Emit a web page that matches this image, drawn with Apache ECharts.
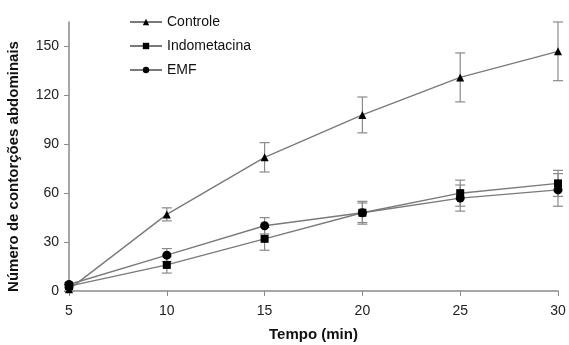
<!DOCTYPE html>
<html>
<head>
<meta charset="utf-8">
<script src="https://cdn.jsdelivr.net/npm/echarts@6/dist/echarts.min.js"></script>
<style>
  html, body { margin: 0; padding: 0; background: #fff; }
  #chart { width: 569px; height: 345px; }
</style>
</head>
<body>
<div id="chart"></div>
<script>
// tempo (min)
var tempos = [5, 10, 15, 20, 25, 30];
var controle = [1, 47, 82, 108, 131, 147];
var controleErr = [1, 4, 9, 11, 15, 18];
var indometacina = [3, 16, 32, 48, 60, 66];
var indometacinaErr = [1, 5, 7, 6, 8, 8];
var emf = [4, 22, 40, 48, 57, 62];
var emfErr = [1, 4, 5, 7, 8, 10];
var yTicks = [0, 30, 60, 90, 120, 150];

function pares(vals) {
  return tempos.map(function (t, i) { return [t, vals[i]]; });
}
function barras(vals, errs) {
  return tempos.map(function (t, i) { return [t, vals[i] - errs[i], vals[i] + errs[i]]; });
}

// desenha as barras de erro com a escala do eixo
function erroItem(params, api) {
  var x = api.value(0);
  var lo = api.coord([x, api.value(1)]);
  var hi = api.coord([x, api.value(2)]);
  var w = 5;
  var st = { stroke: "#8a8a8a", lineWidth: 1.2 };
  return {
    type: "group",
    children: [
      { type: "line", shape: { x1: lo[0], y1: lo[1], x2: hi[0], y2: hi[1] }, style: st },
      { type: "line", shape: { x1: lo[0] - w, y1: lo[1], x2: lo[0] + w, y2: lo[1] }, style: st },
      { type: "line", shape: { x1: hi[0] - w, y1: hi[1], x2: hi[0] + w, y2: hi[1] }, style: st }
    ]
  };
}

var myChart = echarts.init(document.getElementById("chart"));
var lineStyle = { color: "#7a7a7a", width: 1.4 };
var itemStyle = { color: "#000" };

var options = {
  animation: false,
  textStyle: { fontFamily: "Liberation Sans, Arial, sans-serif" },
  grid: { left: 69, right: 11, top: 22, bottom: 54, outerBoundsMode: "none", containLabel: false },
  legend: {
    orient: "vertical",
    left: 124,
    top: 10,
    itemWidth: 32,
    itemHeight: 8,
    itemGap: 10,
    textStyle: { fontSize: 14, color: "#111" },
    data: ["Controle", "Indometacina", "EMF"]
  },
  xAxis: {
    type: "value",
    min: 5,
    max: 30,
    interval: 5,
    name: "Tempo (min)",
    nameLocation: "middle",
    nameGap: 36,
    nameTextStyle: { fontSize: 15, fontWeight: "bold", color: "#111" },
    axisLine: { lineStyle: { color: "#8a8a8a", width: 1.5 } },
    axisTick: { length: 5, lineStyle: { color: "#8a8a8a" } },
    axisLabel: { fontSize: 14, color: "#222", margin: 13 },
    splitLine: { show: false }
  },
  yAxis: {
    type: "value",
    min: 0,
    max: 165,
    name: "Número de contorções abdominais",
    nameLocation: "middle",
    nameGap: 48,
    nameTextStyle: { fontSize: 15, fontWeight: "bold", color: "#111", padding: [0, 20, 0, 0] },
    axisLine: { show: true, lineStyle: { color: "#8a8a8a", width: 1.5 } },
    axisTick: { show: true, length: 5, customValues: yTicks, lineStyle: { color: "#8a8a8a" } },
    axisLabel: { fontSize: 14, color: "#222", margin: 10, customValues: yTicks },
    splitLine: { show: false }
  },
  series: [
    {
      name: "Controle", type: "line", data: pares(controle),
      symbol: "triangle", symbolSize: 8, lineStyle: lineStyle, itemStyle: itemStyle, z: 3
    },
    {
      name: "Indometacina", type: "line", data: pares(indometacina),
      symbol: "rect", symbolSize: 8, lineStyle: lineStyle, itemStyle: itemStyle, z: 3
    },
    {
      name: "EMF", type: "line", data: pares(emf),
      symbol: "circle", symbolSize: 9, lineStyle: lineStyle, itemStyle: itemStyle, z: 3
    },
    { type: "custom", renderItem: erroItem, data: barras(controle, controleErr), z: 2 },
    { type: "custom", renderItem: erroItem, data: barras(indometacina, indometacinaErr), z: 2 },
    { type: "custom", renderItem: erroItem, data: barras(emf, emfErr), z: 2 }
  ]
};
myChart.setOption(options);
</script>
</body>
</html>
